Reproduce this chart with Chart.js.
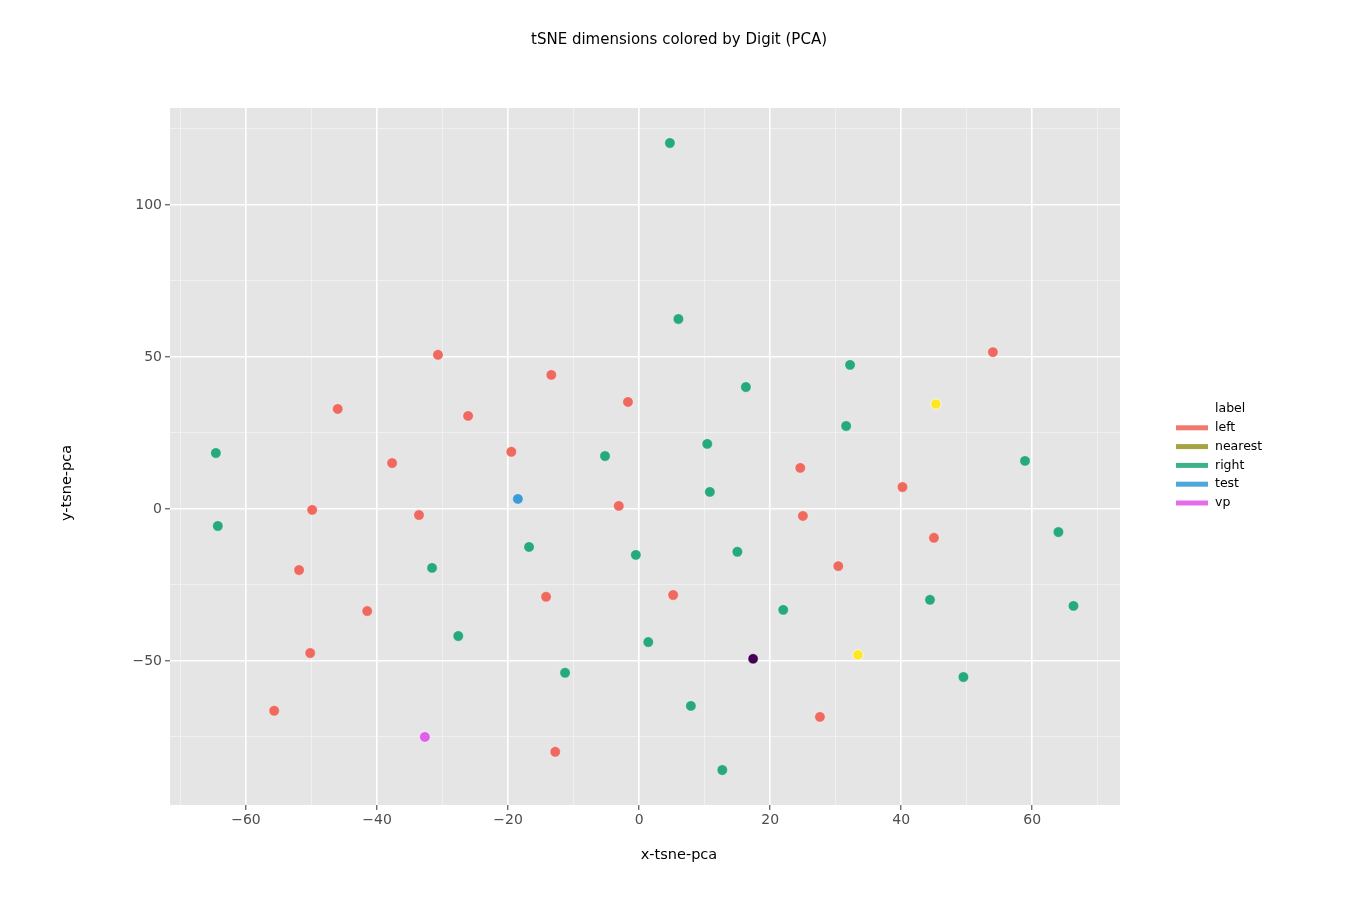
<!DOCTYPE html>
<html>
<head>
<meta charset="utf-8">
<title>tSNE dimensions colored by Digit (PCA)</title>
<script src="https://cdn.jsdelivr.net/npm/chart.js@4.4.1/dist/chart.umd.min.js"></script>
<style>
    html, body { margin: 0; padding: 0; background: #fff; }
    #wrap { width: 1358px; height: 905px; }
</style>
</head>
<body>
<div id="wrap"><canvas id="tsne-chart" width="1358" height="905"></canvas></div>
<script>
// Data
const labels = ['left', 'nearest', 'right', 'test', 'vp'];
const labelColors = ['#F0695F', '#9C9A2D', '#27A97F', '#3A9DD6', '#E05EEB'];

const leftX = [-30.7, -13.4, -46.0, -26.1, -1.7, -19.5, -37.7, -49.9, -33.6, -3.1, -51.9, -41.5, -14.2, 5.2, -50.2, -55.7, -12.8, 24.6, 25.0, 30.4, 40.2, 45.0, 54.0, 27.6];
const leftY = [50.7, 44.1, 32.9, 30.6, 35.2, 18.8, 15.1, -0.3, -2.0, 1.0, -20.1, -33.6, -28.9, -28.3, -47.4, -66.4, -79.9, 13.5, -2.3, -18.8, 7.2, -9.5, 51.6, -68.4];

const nearestX = [];
const nearestY = [];

const rightX = [4.7, 6.0, 16.3, 32.2, 31.6, 10.4, 10.8, -5.2, -64.6, -64.3, -16.8, -0.5, 15.0, -31.6, -27.6, 1.4, -11.3, 22.0, 44.4, 58.9, 64.0, 66.3, 49.5, 7.9, 12.7];
const rightY = [120.4, 62.5, 40.1, 47.4, 27.3, 21.4, 5.6, 17.4, 18.4, -5.6, -12.5, -15.1, -14.1, -19.4, -41.8, -43.8, -53.9, -33.2, -29.9, 15.8, -7.6, -31.9, -55.3, -64.8, -85.9];

const testX = [-18.5];
const testY = [3.3];

const vpX = [-32.7];
const vpY = [-75.0];

// unlabelled extra points (viridis colours, not in legend)
const extraX = [45.3, 33.4, 17.4];
const extraY = [34.5, -48.0, -49.3];
const extraColors = ['#FDE725', '#FDE725', '#440154'];

const xTicks = [-70, -60, -50, -40, -30, -20, -10, 0, 10, 20, 30, 40, 50, 60, 70];
const yTicks = [-75, -50, -25, 0, 25, 50, 75, 100, 125];
const xMajor = [-60, -40, -20, 0, 20, 40, 60];
const yMajor = [-50, 0, 50, 100];

const titleText = 'tSNE dimensions colored by Digit (PCA)';
const xTitle = 'x-tsne-pca';
const yTitle = 'y-tsne-pca';

function toPoints(xs, ys) {
    return xs.map((x, i) => ({ x: x, y: ys[i] }));
}

function alpha(hex, a) {
    const n = parseInt(hex.slice(1), 16);
    return `rgba(${(n >> 16) & 255}, ${(n >> 8) & 255}, ${n & 255}, ${a})`;
}

const seriesX = [leftX, nearestX, rightX, testX, vpX];
const seriesY = [leftY, nearestY, rightY, testY, vpY];

const datasets = labels.map((name, i) => ({
    label: name,
    data: toPoints(seriesX[i], seriesY[i]),
    backgroundColor: labelColors[i],
    borderColor: 'rgba(255,255,255,0.6)',
    borderWidth: 0.6,
    pointRadius: 5.2,
    pointHoverRadius: 5.2
}));

datasets.push({
    label: '',
    data: toPoints(extraX, extraY),
    backgroundColor: extraColors,
    borderColor: 'rgba(255,255,255,0.8)',
    borderWidth: 0.8,
    pointRadius: 5.2,
    pointHoverRadius: 5.2
});

const FONT = "'DejaVu Sans', sans-serif";

// grey panel behind the plot
const panelBackground = {
    id: 'panelBackground',
    beforeDraw(chart) {
        const { ctx, chartArea } = chart;
        ctx.save();
        ctx.fillStyle = '#E5E5E5';
        ctx.fillRect(chartArea.left, chartArea.top, chartArea.right - chartArea.left, chartArea.bottom - chartArea.top);
        ctx.restore();
    }
};

// figure-level texts: title and axis titles centred on the figure like plotnine does
const figureText = {
    id: 'figureText',
    afterDraw(chart) {
        const ctx = chart.ctx;
        ctx.save();
        ctx.fillStyle = '#000';
        ctx.textAlign = 'center';
        ctx.textBaseline = 'middle';
        ctx.font = '15px ' + FONT;
        ctx.fillText(titleText, 679, 40);
        ctx.font = '14.5px ' + FONT;
        ctx.fillText(xTitle, 679, 855);
        ctx.translate(67, 483);
        ctx.rotate(-Math.PI / 2);
        ctx.fillText(yTitle, 0, 0);
        ctx.restore();
    }
};

// ggplot style legend on the right
const sideLegend = {
    id: 'sideLegend',
    afterDraw(chart) {
        const ctx = chart.ctx;
        const x0 = 1176, textX = 1215, top = 409, step = 18.8;
        ctx.save();
        ctx.font = '12.5px ' + FONT;
        ctx.textBaseline = 'middle';
        ctx.fillStyle = '#000';
        ctx.fillText('label', textX, top);
        labels.forEach((name, i) => {
            const y = top + step * (i + 1);
            ctx.fillStyle = alpha(labelColors[i], 0.9);
            ctx.fillRect(x0, y - 2.5, 32, 5);
            ctx.fillStyle = '#000';
            ctx.fillText(name, textX, y);
        });
        ctx.restore();
    }
};

function gridColor(ctx, major) {
    const v = ctx.tick ? ctx.tick.value : null;
    return major.includes(v) ? '#FFFFFF' : 'rgba(255,255,255,0.55)';
}
function gridWidth(ctx, major) {
    const v = ctx.tick ? ctx.tick.value : null;
    return major.includes(v) ? 1.6 : 0.8;
}
function tickColor(ctx, major) {
    const v = ctx.tick ? ctx.tick.value : null;
    return major.includes(v) ? '#333333' : 'rgba(0,0,0,0)';
}

const chart = new Chart(document.getElementById('tsne-chart').getContext('2d'), {
    type: 'scatter',
    data: { datasets: datasets },
    options: {
        responsive: false,
        animation: false,
        devicePixelRatio: 1,
        layout: { padding: { top: 108, right: 238, left: 0, bottom: 0 } },
        plugins: {
            legend: { display: false },
            tooltip: { enabled: false },
            title: { display: false }
        },
        scales: {
            x: {
                type: 'linear',
                min: -71.6,
                max: 73.4,
                afterBuildTicks: scale => { scale.ticks = xTicks.map(v => ({ value: v })); },
                afterFit: scale => { scale.height = 100; },
                border: { display: false },
                grid: {
                    color: c => gridColor(c, xMajor),
                    lineWidth: c => gridWidth(c, xMajor),
                    tickColor: c => tickColor(c, xMajor),
                    tickLength: 5,
                    tickWidth: 1
                },
                ticks: {
                    autoSkip: false,
                    maxRotation: 0,
                    padding: 2,
                    color: '#4D4D4D',
                    font: { family: FONT, size: 14 },
                    callback: v => xMajor.includes(v) ? String(v).replace('-', '\u2212') : ''
                }
            },
            y: {
                type: 'linear',
                min: -97.4,
                max: 131.9,
                afterBuildTicks: scale => { scale.ticks = yTicks.map(v => ({ value: v })); },
                afterFit: scale => { scale.width = 170; },
                border: { display: false },
                grid: {
                    color: c => gridColor(c, yMajor),
                    lineWidth: c => gridWidth(c, yMajor),
                    tickColor: c => tickColor(c, yMajor),
                    tickLength: 5,
                    tickWidth: 1
                },
                ticks: {
                    autoSkip: false,
                    padding: 3,
                    color: '#4D4D4D',
                    font: { family: FONT, size: 14 },
                    callback: v => yMajor.includes(v) ? String(v).replace('-', '\u2212') : ''
                }
            }
        }
    },
    plugins: [panelBackground, figureText, sideLegend]
});
</script>
</body>
</html>
